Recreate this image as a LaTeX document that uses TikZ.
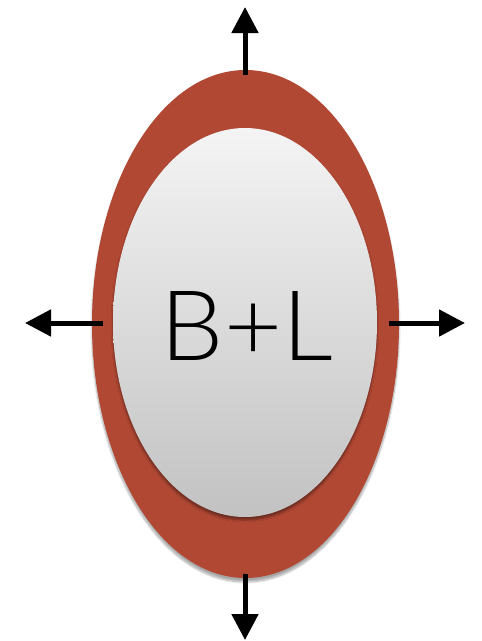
\documentclass[tikz,border=0pt]{standalone}
\usepackage{fontspec}
\setmainfont{Lato}[UprightFont=* Light]
\usetikzlibrary{shapes.geometric,arrows.meta,shadows.blur}
\definecolor{redc}{HTML}{B14834}
\definecolor{greytop}{HTML}{F4F4F4}
\definecolor{greybot}{HTML}{C2C2C2}
\tikzset{
  outerblob/.style={ellipse, inner sep=0pt, minimum width=307pt, minimum height=508pt, fill=redc,
    blur shadow={shadow xshift=0pt, shadow yshift=-4pt, shadow blur steps=10, shadow opacity=35}},
  innerblob/.style={ellipse, inner sep=0pt, minimum width=264pt, minimum height=389pt,
    top color=greytop, bottom color=greybot,
    blur shadow={shadow xshift=0pt, shadow yshift=-3pt, shadow blur steps=8, shadow opacity=40}},
  pusharrow/.style={line width=5pt, -{Triangle[length=26pt,width=26pt]}, black},
}
\begin{document}
\begin{tikzpicture}[x=1pt,y=-1pt]
\useasboundingbox (0,0) rectangle (482,641);
\node[outerblob] (outer) at (245.5,324) {};
\node[innerblob] (inner) at (245,322.5) {};
\node[inner sep=0pt] (label) at (247,325.5) {\resizebox{172pt}{69pt}{\fontsize{96}{96}\selectfont B+L}};
\coordinate (ts) at (245,75);  \coordinate (tt) at (245,7);
\coordinate (bs) at (245,574); \coordinate (bt) at (245,640);
\coordinate (ls) at (103,323); \coordinate (lt) at (25,323);
\coordinate (rs) at (389,323); \coordinate (rt) at (465,323);
\draw[pusharrow] (ts) -- (tt);
\draw[pusharrow] (bs) -- (bt);
\draw[pusharrow] (ls) -- (lt);
\draw[pusharrow] (rs) -- (rt);
\end{tikzpicture}
\end{document}
